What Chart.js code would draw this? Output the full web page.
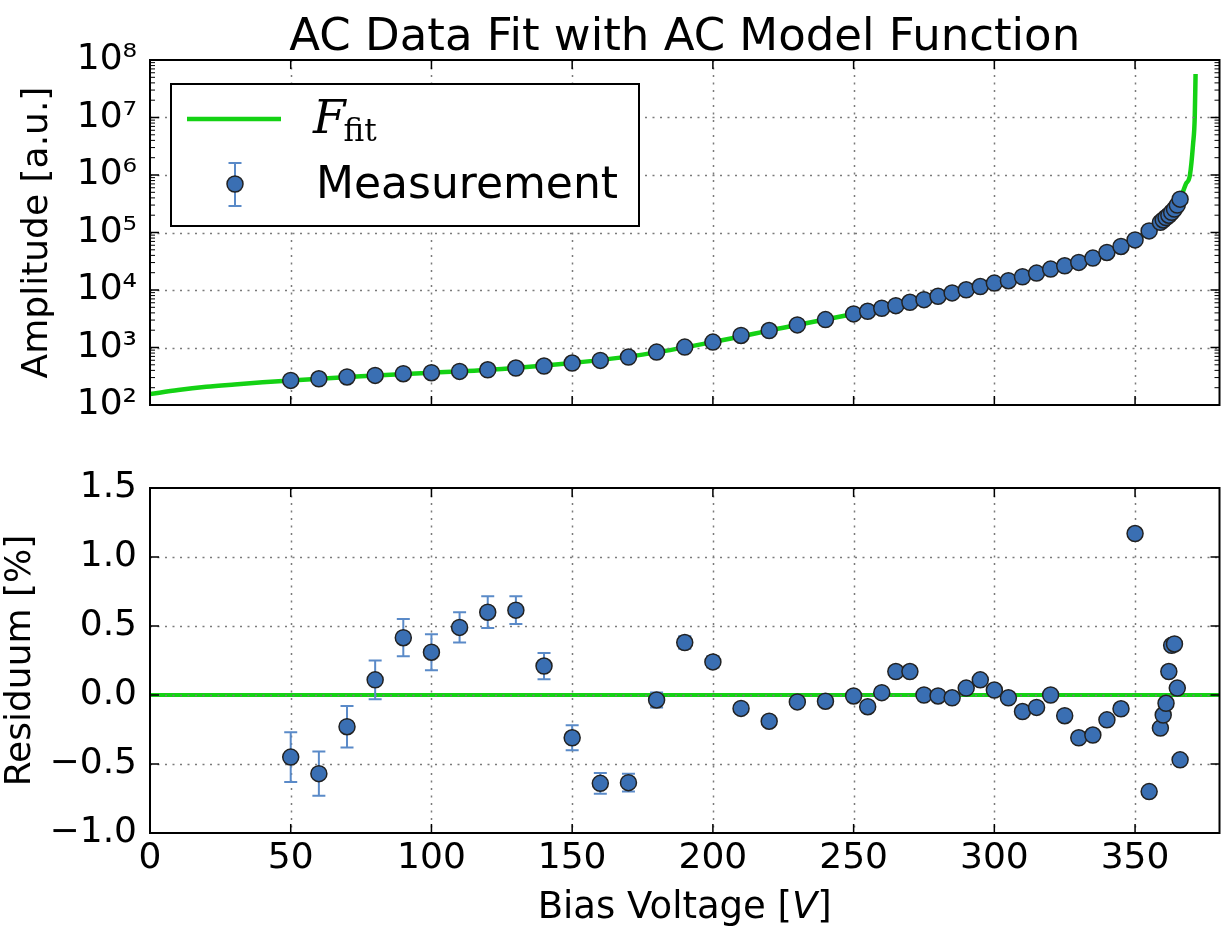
<!DOCTYPE html>
<html lang="en">
<head>
<meta charset="UTF-8">
<title>AC Data Fit with AC Model Function</title>
<script src="https://cdn.jsdelivr.net/npm/chart.js"></script>
<style>
  html, body { margin: 0; padding: 0; background: #fff; }
  #wrap { position: relative; width: 1229px; height: 937px; }
  #top { position: absolute; left: 0; top: 0; }
  #bottom { position: absolute; left: 0; top: 440px; }
</style>
</head>
<body>
<div id="wrap">
  <canvas id="top" width="1229" height="440"></canvas>
  <canvas id="bottom" width="1229" height="497"></canvas>
</div>
<script>
// values
const voltage = [50, 60, 70, 80, 90, 100, 110, 120, 130, 140, 150, 160, 170, 180, 190, 200, 210, 220, 230, 240,
  250, 255, 260, 265, 270, 275, 280, 285, 290, 295, 300, 305, 310, 315, 320, 325, 330, 335, 340, 345, 350, 355,
  359, 360, 361, 362, 363, 364, 365, 366];
const amplitude = [268, 286, 307, 327, 350, 364, 384, 410, 439, 476, 537, 596, 682, 832, 1016, 1242, 1620, 1973, 2472, 3055,
  3837, 4265, 4815, 5345, 6120, 6790, 7770, 8900, 10100, 11500, 13200, 14500, 17000, 19700, 23100, 26400, 30200, 35900, 45000, 57100, 74400, 106600,
  150000, 165000, 182000, 200000, 225000, 255000, 300000, 380000];
const residual = [-0.45, -0.57, -0.23, 0.11, 0.415, 0.31, 0.49, 0.60, 0.615, 0.21, -0.31, -0.64, -0.635, -0.036, 0.38, 0.24, -0.097, -0.19, -0.05, -0.045,
  -0.007, -0.085, 0.017, 0.17, 0.17, 0.0, -0.007, -0.02, 0.05, 0.11, 0.036, -0.02, -0.12, -0.09, 0.0, -0.15, -0.31, -0.29, -0.18, -0.10, 1.17, -0.70,
  -0.24, -0.145, -0.06, 0.17, 0.36, 0.37, 0.05, -0.47];
const residualErr = [0.18, 0.16, 0.15, 0.14, 0.135, 0.13, 0.11, 0.115, 0.10, 0.095, 0.09, 0.075, 0.065, 0.055, 0.045, 0.04, 0.03, 0.03, 0.03, 0.03,
  0.02, 0.02, 0.02, 0.02, 0.02, 0.02, 0.02, 0.02, 0.02, 0.02, 0.02, 0.02, 0.02, 0.02, 0.02, 0.02, 0.02, 0.02, 0.02, 0.02, 0.02, 0.02,
  0.02, 0.02, 0.02, 0.02, 0.02, 0.02, 0.02, 0.02];

// fit curve F_fit
const fitVoltage = [0, 10, 20, 30, 40, 50, 75, 100, 125, 150, 175, 200, 225, 250, 275, 300, 325, 350, 355, 360, 363, 366, 368, 369.5, 370.6, 371.2, 371.5];
const fitAmplitude = [155, 182, 207, 228, 249, 268, 316, 364, 424, 537, 752, 1242, 2210, 3837, 6790, 13200, 26400, 74400, 106600, 165000, 225000, 380000, 690000, 1000000, 3400000, 10000000, 57000000];
const zeroVoltage = [0, 380];
const zeroResidual = [0, 0];

const xTicks = [0, 50, 100, 150, 200, 250, 300, 350];
const ampTicks = [1e2, 1e3, 1e4, 1e5, 1e6, 1e7, 1e8];
const resTicks = [-1.0, -0.5, 0.0, 0.5, 1.0, 1.5];

const GREEN = '#14d214';
const MARKER = '#3a6fb3';
const ERRCOL = '#5a8ac8';
const FONT = '"DejaVu Sans", sans-serif';
const RADIUS = 8;

const sup = { '0': '\u2070', '1': '\u00b9', '2': '\u00b2', '3': '\u00b3', '4': '\u2074', '5': '\u2075', '6': '\u2076', '7': '\u2077', '8': '\u2078', '9': '\u2079' };
function powLabel(v) {
  const e = Math.round(Math.log10(v));
  return '10' + String(e).split('').map(c => sup[c]).join('');
}

function xy(xs, ys) {
  return xs.map((x, i) => ({ x: x, y: ys[i] }));
}

function drawGrid(chart, xs, ys) {
  const { ctx, chartArea: a, scales } = chart;
  ctx.save();
  ctx.strokeStyle = '#7a7a7a';
  ctx.lineWidth = 1.5;
  ctx.setLineDash([2, 5.5]);
  ctx.beginPath();
  xs.forEach(v => {
    const p = Math.round(scales.x.getPixelForValue(v)) + 0.5;
    if (p > a.left + 2 && p < a.right - 2) { ctx.moveTo(p, a.top); ctx.lineTo(p, a.bottom); }
  });
  ys.forEach(v => {
    const p = Math.round(scales.y.getPixelForValue(v)) + 0.5;
    if (p > a.top + 2 && p < a.bottom - 2) { ctx.moveTo(a.left, p); ctx.lineTo(a.right, p); }
  });
  ctx.stroke();
  ctx.restore();
}

function drawFrame(chart, xs, ys, minor) {
  const { ctx, chartArea: a, scales } = chart;
  ctx.save();
  ctx.strokeStyle = '#000';
  ctx.lineWidth = 1.5;
  ctx.beginPath();
  xs.forEach(v => {
    const p = scales.x.getPixelForValue(v);
    ctx.moveTo(p, a.bottom); ctx.lineTo(p, a.bottom - 9);
    ctx.moveTo(p, a.top); ctx.lineTo(p, a.top + 9);
  });
  ys.forEach(v => {
    const p = scales.y.getPixelForValue(v);
    ctx.moveTo(a.left, p); ctx.lineTo(a.left + 9, p);
    ctx.moveTo(a.right, p); ctx.lineTo(a.right - 9, p);
  });
  ctx.stroke();
  if (minor) {
    ctx.lineWidth = 1;
    ctx.beginPath();
    for (let i = 0; i < ys.length - 1; i++) {
      for (let k = 2; k < 10; k++) {
        const p = scales.y.getPixelForValue(ys[i] * k);
        ctx.moveTo(a.left, p); ctx.lineTo(a.left + 5, p);
        ctx.moveTo(a.right, p); ctx.lineTo(a.right - 5, p);
      }
    }
    ctx.stroke();
  }
  ctx.lineWidth = 2;
  ctx.strokeRect(a.left, a.top, a.right - a.left, a.bottom - a.top);
  ctx.restore();
}

function drawMarker(ctx, x, y) {
  ctx.beginPath();
  ctx.arc(x, y, RADIUS, 0, Math.PI * 2);
  ctx.fillStyle = MARKER;
  ctx.fill();
  ctx.lineWidth = 1.5;
  ctx.strokeStyle = '#222';
  ctx.stroke();
}

function drawErr(ctx, x, y1, y2) {
  ctx.beginPath();
  ctx.moveTo(x, y1); ctx.lineTo(x, y2);
  ctx.moveTo(x - 6.5, y1); ctx.lineTo(x + 6.5, y1);
  ctx.moveTo(x - 6.5, y2); ctx.lineTo(x + 6.5, y2);
  ctx.stroke();
}

// ---------- top panel ----------
const topDeco = {
  id: 'topDeco',
  afterDatasetDraw(chart, args) {
    if (args.index === 1) drawGrid(chart, xTicks, ampTicks);
  },
  afterDatasetsDraw(chart) {
    drawFrame(chart, xTicks, ampTicks, true);
  },
  afterDraw(chart) {
    const ctx = chart.ctx;
    const a = chart.chartArea;
    ctx.save();
    // title
    ctx.fillStyle = '#000';
    ctx.font = '45px ' + FONT;
    ctx.textAlign = 'center';
    ctx.textBaseline = 'alphabetic';
    ctx.fillText('AC Data Fit with AC Model Function', (a.left + a.right) / 2, 50);
    // y title
    ctx.save();
    ctx.translate(38, (a.top + a.bottom) / 2);
    ctx.rotate(-Math.PI / 2);
    ctx.font = '36px ' + FONT;
    ctx.textBaseline = 'middle';
    ctx.fillText('Amplitude [a.u.]', 0, 0);
    ctx.restore();
    // legend
    ctx.fillStyle = '#fff';
    ctx.fillRect(171, 84, 468, 142);
    ctx.strokeStyle = '#000';
    ctx.lineWidth = 2;
    ctx.strokeRect(171, 84, 468, 142);
    ctx.strokeStyle = GREEN;
    ctx.lineWidth = 4.5;
    ctx.beginPath();
    ctx.moveTo(187, 119); ctx.lineTo(281, 119);
    ctx.stroke();
    ctx.fillStyle = '#000';
    ctx.textAlign = 'left';
    ctx.textBaseline = 'alphabetic';
    ctx.font = 'italic 47px "DejaVu Serif", serif';
    ctx.fillText('F', 313, 133);
    const fw = ctx.measureText('F').width;
    ctx.font = '31px "DejaVu Serif", serif';
    ctx.fillText('fit', 313 + fw - 2, 141);
    ctx.strokeStyle = ERRCOL;
    ctx.lineWidth = 2;
    drawErr(ctx, 235, 163, 206);
    drawMarker(ctx, 235, 184);
    ctx.fillStyle = '#000';
    ctx.font = '44px ' + FONT;
    ctx.fillText('Measurement', 316, 198);
    ctx.restore();
  }
};

new Chart(document.getElementById('top'), {
  type: 'scatter',
  data: {
    datasets: [{
      label: 'Measurement',
      data: xy(voltage, amplitude),
      order: 1,
      pointRadius: RADIUS,
      pointBackgroundColor: MARKER,
      pointBorderColor: '#222',
      pointBorderWidth: 1.5
    }, {
      label: 'F_fit',
      data: xy(fitVoltage, fitAmplitude),
      order: 2,
      showLine: true,
      borderColor: GREEN,
      borderWidth: 4.5,
      pointRadius: 0,
      cubicInterpolationMode: 'monotone'
    }]
  },
  options: {
    responsive: false,
    animation: false,
    events: [],
    layout: { padding: { top: 60, right: 7, bottom: 0, left: 0 } },
    plugins: { legend: { display: false }, tooltip: { enabled: false } },
    scales: {
      x: {
        type: 'linear', min: 0, max: 380,
        grid: { display: false, drawTicks: false },
        border: { display: false },
        ticks: { display: false },
        afterBuildTicks: s => { s.ticks = xTicks.map(v => ({ value: v })); },
        afterFit: s => { s.height = 35; }
      },
      y: {
        type: 'logarithmic', min: 100, max: 1e8,
        grid: { display: false, drawTicks: false },
        border: { display: false },
        ticks: { color: '#000', font: { family: 'DejaVu Sans', size: 36 }, padding: 13, callback: v => powLabel(v) },
        afterBuildTicks: s => { s.ticks = ampTicks.map(v => ({ value: v })); },
        afterFit: s => { s.width = 150; }
      }
    }
  },
  plugins: [topDeco]
});

// ---------- bottom panel ----------
const bottomDeco = {
  id: 'bottomDeco',
  afterDatasetDraw(chart, args) {
    if (args.index === 1) drawGrid(chart, xTicks, resTicks);
  },
  beforeDatasetDraw(chart, args) {
    if (args.index !== 0) return;
    const { ctx, scales } = chart;
    ctx.save();
    ctx.strokeStyle = ERRCOL;
    ctx.lineWidth = 2;
    voltage.forEach((v, i) => {
      const px = scales.x.getPixelForValue(v);
      drawErr(ctx, px, scales.y.getPixelForValue(residual[i] + residualErr[i]), scales.y.getPixelForValue(residual[i] - residualErr[i]));
    });
    ctx.restore();
  },
  afterDatasetsDraw(chart) {
    drawFrame(chart, xTicks, resTicks, false);
  },
  afterDraw(chart) {
    const ctx = chart.ctx;
    const a = chart.chartArea;
    ctx.save();
    ctx.fillStyle = '#000';
    // y title
    ctx.save();
    ctx.translate(21, (a.top + a.bottom) / 2);
    ctx.rotate(-Math.PI / 2);
    ctx.font = '36px ' + FONT;
    ctx.textAlign = 'center';
    ctx.textBaseline = 'middle';
    ctx.fillText('Residuum [%]', 0, 0);
    ctx.restore();
    // x title with italic V
    const p1 = 'Bias Voltage [', p2 = 'V', p3 = ']';
    ctx.font = '37px ' + FONT;
    const w1 = ctx.measureText(p1).width, w3 = ctx.measureText(p3).width;
    ctx.font = 'italic 37px ' + FONT;
    const w2 = ctx.measureText(p2).width;
    let x = (a.left + a.right) / 2 - (w1 + w2 + w3) / 2;
    const base = 478;
    ctx.textAlign = 'left';
    ctx.textBaseline = 'alphabetic';
    ctx.font = '37px ' + FONT;
    ctx.fillText(p1, x, base);
    ctx.font = 'italic 37px ' + FONT;
    ctx.fillText(p2, x + w1, base);
    ctx.font = '37px ' + FONT;
    ctx.fillText(p3, x + w1 + w2, base);
    ctx.restore();
  }
};

new Chart(document.getElementById('bottom'), {
  type: 'scatter',
  data: {
    datasets: [{
      label: 'Residuum',
      data: xy(voltage, residual),
      order: 1,
      pointRadius: RADIUS,
      pointBackgroundColor: MARKER,
      pointBorderColor: '#222',
      pointBorderWidth: 1.5
    }, {
      label: 'zero',
      data: xy(zeroVoltage, zeroResidual),
      order: 2,
      showLine: true,
      borderColor: GREEN,
      borderWidth: 4,
      pointRadius: 0
    }]
  },
  options: {
    responsive: false,
    animation: false,
    events: [],
    layout: { padding: { top: 48, right: 7, bottom: 0, left: 0 } },
    plugins: { legend: { display: false }, tooltip: { enabled: false } },
    scales: {
      x: {
        type: 'linear', min: 0, max: 380,
        grid: { display: false, drawTicks: false },
        border: { display: false },
        ticks: { color: '#000', font: { family: 'DejaVu Sans', size: 36 }, padding: 4, maxRotation: 0 },
        afterBuildTicks: s => { s.ticks = xTicks.map(v => ({ value: v })); },
        afterFit: s => { s.height = 104; }
      },
      y: {
        type: 'linear', min: -1.0, max: 1.5,
        grid: { display: false, drawTicks: false },
        border: { display: false },
        ticks: { color: '#000', font: { family: 'DejaVu Sans', size: 36 }, padding: 13, callback: v => v.toFixed(1).replace('-', '\u2212') },
        afterBuildTicks: s => { s.ticks = resTicks.map(v => ({ value: v })); },
        afterFit: s => { s.width = 150; }
      }
    }
  },
  plugins: [bottomDeco]
});
</script>
</body>
</html>
